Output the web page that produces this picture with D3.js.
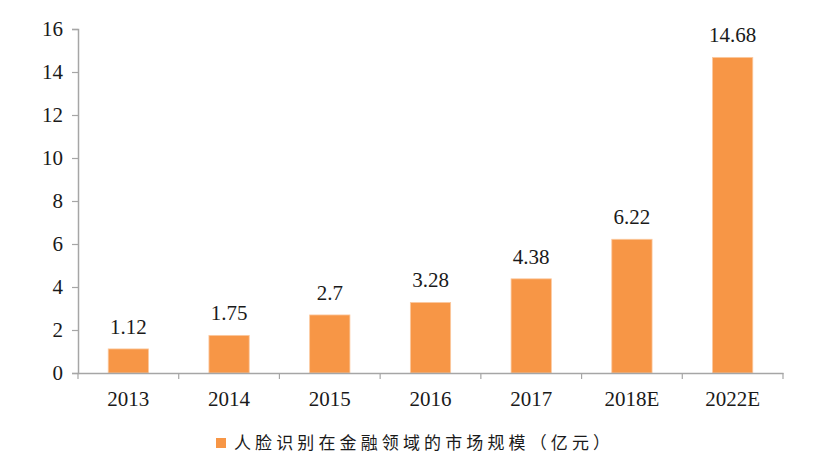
<!DOCTYPE html>
<html><head><meta charset="utf-8">
<script src="https://cdn.jsdelivr.net/npm/d3@7"></script>
<style>body{margin:0;background:#fff}</style>
</head><body>
<svg id="c" width="832" height="466"></svg>
<script>
const categories = ["2013","2014","2015","2016","2017","2018E","2022E"];
const values = [1.12,1.75,2.7,3.28,4.38,6.22,14.68];
const labels = ["1.12","1.75","2.7","3.28","4.38","6.22","14.68"];
const yTicks = [0,2,4,6,8,10,12,14,16];
const seriesName = "人脸识别在金融领域的市场规模（亿元）";

(function(){
const svg = d3.select("#c");
const mLeft = 78, mRight = 783, mTop = 29, mBottom = 373;
const x = d3.scaleBand().domain(categories).range([mLeft, mRight]).paddingInner(0.6).paddingOuter(0.3);
const xb = d3.scaleBand().domain(categories).range([mLeft, mRight]);
const y = d3.scaleLinear().domain([0,16]).range([mBottom, mTop]);
const axisColor = "#a6a6a6";
const serif = "'Liberation Serif','Times New Roman',serif";
const fs = 21;

// bars
svg.selectAll("rect.bar").data(values).join("rect")
  .attr("class","bar")
  .attr("x",(d,i)=>x(categories[i]))
  .attr("width",x.bandwidth())
  .attr("y",d=>y(d))
  .attr("height",d=>mBottom-y(d))
  .attr("fill","#f79646")
  .attr("stroke","#fbc9a0").attr("stroke-width",0.8);

// value labels
svg.selectAll("text.val").data(values).join("text")
  .attr("class","val")
  .attr("x",(d,i)=>x(categories[i])+x.bandwidth()/2)
  .attr("y",d=>y(d)-15)
  .attr("text-anchor","middle")
  .attr("font-family",serif).attr("font-size",fs).attr("fill","#1a1a1a")
  .text((d,i)=>labels[i]);

// y axis
const yAxis = svg.append("g").attr("transform",`translate(${mLeft},0)`)
  .call(d3.axisLeft(y).tickValues(yTicks).tickSize(6).tickPadding(9).tickFormat(d3.format("d")));
yAxis.select(".domain").attr("stroke",axisColor).attr("stroke-width",1.5);
yAxis.selectAll(".tick line").attr("stroke",axisColor).attr("stroke-width",1.2);
yAxis.selectAll(".tick text").attr("font-family",serif).attr("font-size",fs).attr("fill","#1a1a1a");

// x axis
const xAxis = svg.append("g").attr("transform",`translate(0,${mBottom})`)
  .call(d3.axisBottom(xb).tickSize(0).tickPadding(18).tickSizeOuter(0));
xAxis.select(".domain").attr("stroke",axisColor).attr("stroke-width",1.5);
xAxis.selectAll(".tick text").attr("font-family",serif).attr("font-size",fs).attr("fill","#1a1a1a");
const bounds = categories.map(c=>xb(c)).concat([xb(categories[categories.length-1])+xb.bandwidth()]);
svg.selectAll("line.bt").data(bounds).join("line").attr("class","bt")
  .attr("x1",d=>d).attr("x2",d=>d).attr("y1",mBottom).attr("y2",mBottom+6)
  .attr("stroke",axisColor).attr("stroke-width",1.2);

// legend
const lg = svg.append("g");
lg.append("rect").attr("x",216).attr("y",438).attr("width",10).attr("height",10).attr("fill","#f79646");
lg.append("text").attr("x",234).attr("y",449)
  .attr("font-family","'Noto Sans CJK SC',sans-serif").attr("font-size",17).attr("fill","#1a1a1a")
  .attr("textLength",376).attr("lengthAdjust","spacing")
  .text(seriesName);
})();
</script>
</body></html>
